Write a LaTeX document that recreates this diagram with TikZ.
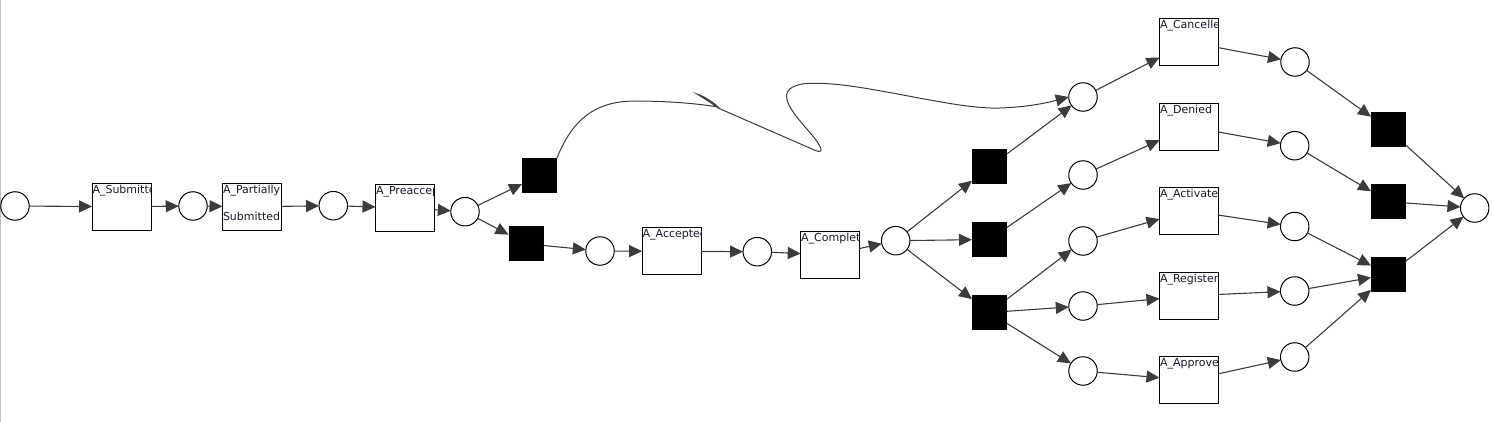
\documentclass[tikz,border=0pt]{standalone}
\usepackage{fontspec}
\setmainfont{DejaVu Sans}
\usetikzlibrary{arrows.meta}
\definecolor{arcgray}{HTML}{3C3C3C}
\definecolor{labelc}{HTML}{1A1A2A}
\newcommand\tlab[3]{%
  \begin{scope}
    \clip (#1.north west) rectangle (#1.south east);
    \node[lbl] at ([xshift=0.3pt,yshift=#3]#1.north west) {#2};
  \end{scope}}
\begin{document}
\begin{tikzpicture}[x=1pt,y=-1pt,
  place/.style={circle,draw=black,line width=1pt,minimum size=28.5pt,inner sep=0pt,outer sep=0pt,fill=white},
  trans/.style={rectangle,draw=black,line width=1pt,minimum width=59pt,minimum height=47pt,inner sep=0pt,outer sep=0pt,fill=white},
  silent/.style={rectangle,fill=black,minimum size=35pt,inner sep=0pt,outer sep=0pt},
  arc/.style={draw=arcgray,line width=1.1pt,-{Triangle[length=13pt,width=12pt]}},
  lbl/.style={font=\fontsize{11}{13}\selectfont,text=labelc,anchor=north west,inner sep=0pt}
]
\useasboundingbox (0,0) rectangle (1493,422);
\draw[gray!50,line width=1.2pt] (0.6,0) -- (0.6,422);

% places
\node[place] (p0) at (15,206) {};
\node[place] (p1) at (193,206) {};
\node[place] (p2) at (333.3,205.7) {};
\node[place] (p3) at (465,211.7) {};
\node[place] (p4) at (600,251) {};
\node[place] (p5) at (757.3,251.7) {};
\node[place] (p6) at (895.7,240.7) {};
\node[place] (pC) at (1083,97) {};
\node[place] (pD) at (1083,175) {};
\node[place] (pAct) at (1083,241) {};
\node[place] (pReg) at (1083,306) {};
\node[place] (pApp) at (1083,371) {};
\node[place] (qC) at (1295,62) {};
\node[place] (qD) at (1294.7,145.7) {};
\node[place] (qAct) at (1294.7,226.5) {};
\node[place] (qReg) at (1294.7,291) {};
\node[place] (qApp) at (1294.7,357) {};
\node[place] (pend) at (1474.7,208) {};

% visible transitions
\node[trans] (aSub) at (121.5,206.7) {};
\node[trans] (aPart) at (252,206.7) {};
\node[trans] (aPre) at (405,207.8) {};
\node[trans] (aAcc) at (671.7,251.3) {};
\node[trans] (aCom) at (830.2,254.8) {};
\node[trans] (aCan) at (1189,42.2) {};
\node[trans] (aDen) at (1189,126.8) {};
\node[trans] (aAct) at (1189,210.7) {};
\node[trans] (aReg) at (1189,295.8) {};
\node[trans] (aApp) at (1189,380.3) {};

\tlab{aSub}{A\_Submitted}{-1.5pt}
\tlab{aPart}{A\_Partially}{-1.5pt}
\node[lbl] (subLine) at ([xshift=0.3pt,yshift=-29pt]aPart.north west) {Submitted};
\tlab{aPre}{A\_Preaccepted}{-1.5pt}
\tlab{aAcc}{A\_Accepted}{-1.5pt}
\tlab{aCom}{A\_Complete}{-1.5pt}
\tlab{aCan}{A\_Cancelled}{-1.5pt}
\tlab{aDen}{A\_Denied}{-1.5pt}
\tlab{aAct}{A\_Activated}{-1.5pt}
\tlab{aReg}{A\_Registered}{-1.5pt}
\tlab{aApp}{A\_Approved}{-1.5pt}

% silent transitions
\node[silent] (t1) at (539.5,175.5) {};
\node[silent] (t2) at (526,243.8) {};
\node[silent] (t3) at (989.5,167) {};
\node[silent] (t4) at (989.5,239.5) {};
\node[silent] (t5) at (989.5,312.5) {};
\node[silent] (t6) at (1388.5,129.3) {};
\node[silent] (t7) at (1388.5,201.7) {};
\node[silent] (t8) at (1388.5,274.5) {};

% arcs
\draw[arc] (p0) -- (aSub);
\draw[arc] (aSub) -- (p1);
\draw[arc] (p1) -- (aPart);
\draw[arc] (aPart) -- (p2);
\draw[arc] (p2) -- (aPre);
\draw[arc] (aPre) -- (p3);
\draw[arc] (p3) -- (t1);
\draw[arc] (p3) -- (t2);
\draw[arc] (t2) -- (p4);
\draw[arc] (p4) -- (aAcc);
\draw[arc] (aAcc) -- (p5);
\draw[arc] (p5) -- (aCom);
\draw[arc] (aCom) -- (p6);
\draw[arc] (p6) -- (t3);
\draw[arc] (p6) -- (t4);
\draw[arc] (p6) -- (t5);
\draw[arc] (t3) -- (pC);
\draw[arc] (t4) -- (pD);
\draw[arc] (t5) -- (pAct);
\draw[arc] (t5) -- (pReg);
\draw[arc] (t5) -- (pApp);
\draw[arc] (pC) -- (aCan);
\draw[arc] (pD) -- (aDen);
\draw[arc] (pAct) -- (aAct);
\draw[arc] (pReg) -- (aReg);
\draw[arc] (pApp) -- (aApp);
\draw[arc] (aCan) -- (qC);
\draw[arc] (aDen) -- (qD);
\draw[arc] (aAct) -- (qAct);
\draw[arc] (aReg) -- (qReg);
\draw[arc] (aApp) -- (qApp);
\draw[arc] (qC) -- (t6);
\draw[arc] (qD) -- (t7);
\draw[arc] (qAct) -- (t8);
\draw[arc] (qReg) -- (t8);
\draw[arc] (qApp) -- (t8);
\draw[arc] (t6) -- (pend);
\draw[arc] (t7) -- (pend);
\draw[arc] (t8) -- (pend);

% the long wavy arc
\draw[arc,line width=1pt] (t1.north east)
  .. controls (572,120) and (595,101) .. (635,101)
  .. controls (670,101) and (700,104) .. (718,107)
  .. controls (712,101) and (703,96) .. (697,94)
  .. controls (705,99) and (713,104) .. (718,108)
  -- (812,149)
  .. controls (826,156) and (822,147) .. (812,135)
  .. controls (795,115) and (770,90) .. (802,84)
  .. controls (850,78) and (950,110) .. (1000,108)
  .. controls (1030,107) and (1050,102) .. (pC.west);
\end{tikzpicture}
\end{document}
